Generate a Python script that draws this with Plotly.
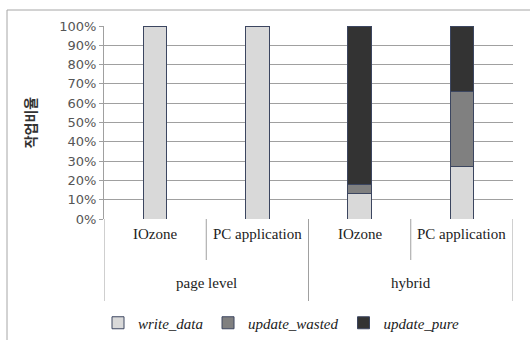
import plotly.graph_objects as go

groups = ["page level", "hybrid"]
subcats = ["IOzone", "PC application", "IOzone", "PC application"]
write_data = [100, 100, 13, 27]
update_wasted = [0, 0, 5, 39]
update_pure = [0, 0, 82, 34]
y_ticks = [0, 10, 20, 30, 40, 50, 60, 70, 80, 90, 100]
y_ticklabels = [f"{v}%" for v in y_ticks]

xpos = list(range(len(subcats)))
series = [
    ("write_data", write_data, "#d9d9d9"),
    ("update_wasted", update_wasted, "#808080"),
    ("update_pure", update_pure, "#333333"),
]

fig = go.Figure()
for name, vals, col in series:
    fig.add_trace(go.Bar(
        x=xpos, y=vals, name=name, width=0.23,
        marker=dict(color=col, line=dict(color="#3c4660", width=1)),
    ))

W, H = 530, 340
ml, mr, mt, mb = 104, 17, 26, 121
pw, ph = W - ml - mr, H - mt - mb

def px_to_py(py):
    return (H - mb - py) / ph

def px_to_px(px):
    return (px - ml) / pw

shapes = []
# inner dividers (between subcategories)
for b in [0.5, 2.5]:
    shapes.append(dict(type="line", xref="x", yref="paper", x0=b, x1=b,
                       y0=0, y1=px_to_py(260), line=dict(color="#a0a0a0", width=1)))
# group dividers
for b in [-0.5, 1.5, 3.5]:
    shapes.append(dict(type="line", xref="x", yref="paper", x0=b, x1=b,
                       y0=0, y1=px_to_py(301), line=dict(color="#a0a0a0", width=1)))
# outer frame (left and top)
shapes.append(dict(type="line", xref="paper", yref="paper",
                   x0=px_to_px(7), x1=px_to_px(7), y0=px_to_py(10), y1=px_to_py(345),
                   line=dict(color="#a6a6a6", width=1)))
shapes.append(dict(type="line", xref="paper", yref="paper",
                   x0=px_to_px(7), x1=px_to_px(535), y0=px_to_py(10), y1=px_to_py(10),
                   line=dict(color="#a6a6a6", width=1)))

annotations = []
lab_font = dict(family="Liberation Serif", size=15, color="#222222")
for i, s in enumerate(subcats):
    annotations.append(dict(x=i, y=px_to_py(234), xref="x", yref="paper", text=s,
                            showarrow=False, font=lab_font, yanchor="middle"))
for gi, g in enumerate(groups):
    annotations.append(dict(x=gi * 2 + 0.5, y=px_to_py(283), xref="x", yref="paper", text=g,
                            showarrow=False, font=lab_font, yanchor="middle"))

fig.update_layout(
    barmode="stack",
    width=W, height=H,
    margin=dict(l=ml, r=mr, t=mt, b=mb, autoexpand=False),
    paper_bgcolor="white", plot_bgcolor="white",
    showlegend=True,
    legend=dict(orientation="h", x=px_to_px(98), xanchor="left",
                y=px_to_py(323), yanchor="middle",
                font=dict(family="Liberation Serif", size=15, color="#222222"),
                itemwidth=30, traceorder="normal", bgcolor="rgba(0,0,0,0)"),
    xaxis=dict(range=[-0.5, 3.5], showticklabels=False, showgrid=False,
               zeroline=False, showline=False, fixedrange=True),
    yaxis=dict(range=[0, 100], tickvals=y_ticks, ticktext=y_ticklabels,
               showgrid=True, gridcolor="#a0a0a0", gridwidth=1,
               showline=True, linecolor="#a0a0a0", linewidth=1,
               ticks="outside", ticklen=4, tickcolor="#a0a0a0",
               zeroline=False,
               tickfont=dict(family="DejaVu Sans", size=13, color="#555555"),
               title=dict(text="<b>작업비율</b>", standoff=19,
                          font=dict(family="Noto Sans CJK KR", size=14, color="#333333"))),
    shapes=shapes, annotations=annotations,
)
fig.update_layout(legend_font_style="italic")

fig.write_html("out.html")
